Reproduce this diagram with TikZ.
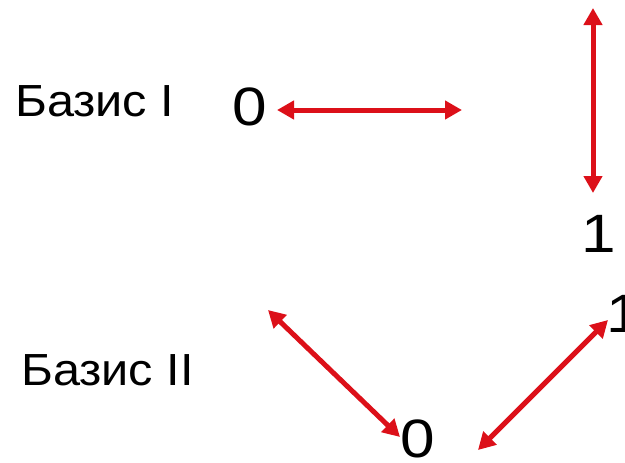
\documentclass[tikz,border=0pt]{standalone}
\usepackage{fontspec}
\setmainfont{Liberation Sans}
\newfontfamily\lblfont[FakeStretch=1.08]{Liberation Sans}
\newfontfamily\digfont[FakeStretch=1.15]{Liberation Sans}
\usetikzlibrary{arrows.meta}
\definecolor{arrred}{HTML}{DC1019}
\tikzset{
  lbl/.style={anchor=base west, inner sep=0pt, font=\lblfont\fontsize{45}{54}\selectfont},
  dig/.style={anchor=base, inner sep=0pt, font=\digfont\fontsize{54}{60}\selectfont},
  dbl/.style={arrred, line width=5pt, {Triangle[length=17pt,width=18pt]}-{Triangle[length=17pt,width=18pt]}}
}
\begin{document}
\begin{tikzpicture}[x=1pt,y=-1pt]
\useasboundingbox (0,0) rectangle (625,463);
\node[lbl] (b1) at (15,116) {Базис I};
\node[lbl] (b2) at (21,385) {Базис II};
\node[dig] (z1) at (250,125) {0};
\node[dig] (o1) at (599,252) {1};
\node[dig] (z2) at (418,457) {0};
\node[dig] (o2) at (624,332) {1};
\coordinate (h1) at (277,110);
\coordinate (h2) at (462,110);
\coordinate (v1) at (593,8);
\coordinate (v2) at (593,193);
\coordinate (l1) at (268,310);
\coordinate (l2) at (400,437);
\coordinate (r1) at (478,450);
\coordinate (r2) at (608,320);
\draw[dbl] (h1) -- (h2);
\draw[dbl] (v1) -- (v2);
\draw[dbl] (l1) -- (l2);
\draw[dbl] (r1) -- (r2);
\end{tikzpicture}
\end{document}
